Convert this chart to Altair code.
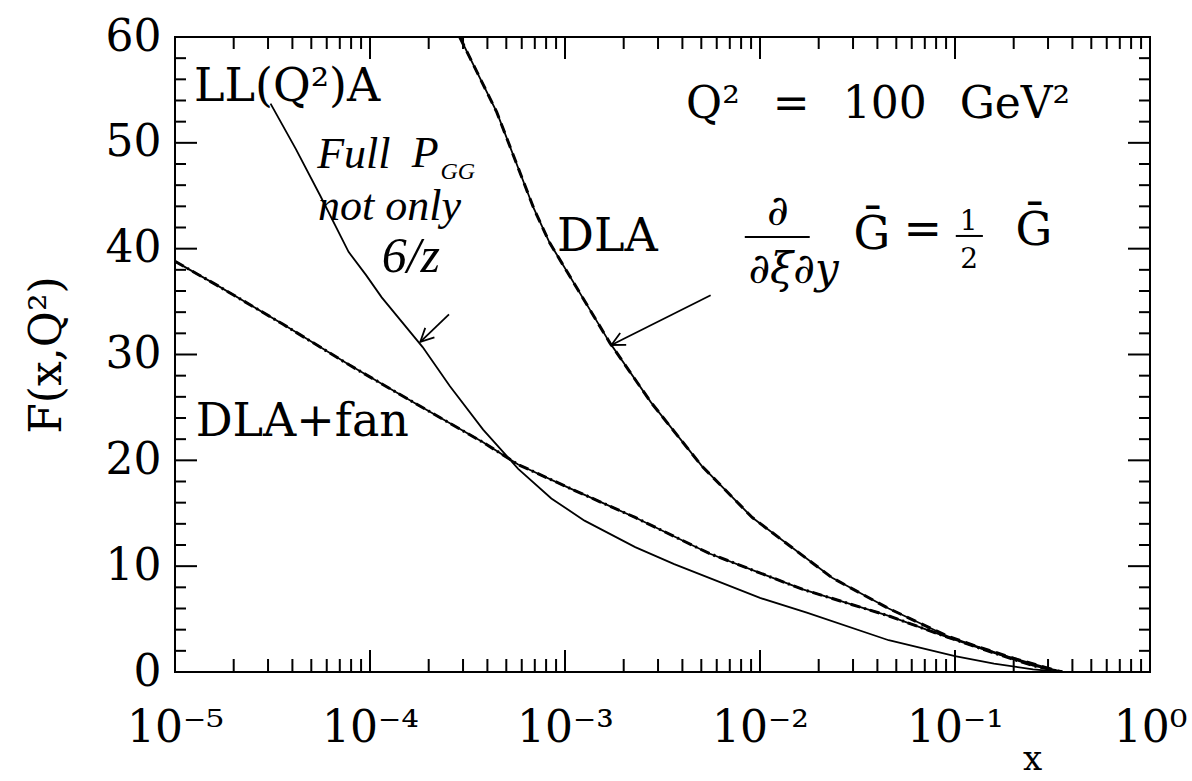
import altair as alt
import pandas as pd

# F(x, Q^2) at Q^2 = 100 GeV^2, each curve as (log10 x, F)
dla_log_x = [-3.54, -3.35, -3.16, -3.08, -2.77, -2.56, -2.30, -2.04, -1.63, -1.34, -1.04, -0.90, -0.70, -0.55, -0.45]
dla_f = [60.0, 52.9, 43.8, 40.6, 31.1, 25.5, 19.5, 14.6, 8.9, 6.0, 3.4, 2.5, 1.3, 0.5, 0.0]

fan_log_x = [-5.0, -4.79, -4.45, -4.105, -3.76, -3.42, -3.24, -2.98, -2.81, -2.64, -2.26, -1.78, -1.34, -1.04, -0.80, -0.60, -0.45]
fan_f = [38.8, 36.6, 32.9, 29.0, 25.3, 21.7, 19.6, 17.4, 16.0, 14.6, 11.2, 7.8, 5.3, 3.3, 1.8, 0.6, 0.0]

ll_log_x = [-4.51, -4.38, -4.255, -4.11, -4.02, -3.94, -3.73, -3.59, -3.42, -3.24, -3.07, -2.90, -2.64, -2.44,
            -2.00, -1.76, -1.34, -1.00, -0.80, -0.60, -0.45]
ll_f = [53.7, 49.4, 45.0, 39.7, 37.5, 35.4, 30.7, 27.0, 22.9, 19.2, 16.4, 14.3, 11.8, 10.2,
        7.0, 5.6, 3.0, 1.5, 0.8, 0.25, 0.0]

# axis ticks and labels
x_major = [1e-5, 1e-4, 1e-3, 1e-2, 1e-1, 1.0]
x_tick_labels = ["10⁻⁵", "10⁻⁴", "10⁻³", "10⁻²", "10⁻¹", "10⁰"]
x_minor = [k * 10.0 ** d for d in range(-5, 0) for k in range(2, 10)]
y_major = [0, 10, 20, 30, 40, 50, 60]
y_minor = [v for v in range(2, 60, 2) if v % 10]

# printed labels
label_text = ["LL(Q²)A", "DLA", "DLA+fan"]
label_log_x = [-4.903, -3.041, -4.894]
label_f = [54.0, 39.8, 22.3]

GAP = "\u2002\u2005"
q2_text = [f"Q²{GAP}={GAP}100{GAP}GeV²"]
q2_log_x = [-2.379]
q2_f = [52.3]

# handwritten notes
note_text = ["Full", "P", "not only"]
note_log_x = [-4.271, -3.786, -4.267]
note_f = [47.6, 47.7, 42.7]
frac_note_text = ["6/z"]
frac_note_log_x = [-3.94]
frac_note_f = [37.8]
sub_text = ["GG"]
sub_log_x = [-3.639]
sub_f = [46.6]

deriv_text = ["∂", "∂ξ∂y"]
deriv_log_x = [-1.909, -1.828]
deriv_f = [42.2, 36.8]
g_text = ["Ḡ", "=", "Ḡ"]
g_log_x = [-1.426, -1.165, -0.595]
g_f = [40.0, 40.4, 40.35]
half_text = ["1", "2"]
half_log_x = [-0.930, -0.927]
half_f = [41.8, 38.2]
bar_log_x0 = [-2.078, -0.996]
bar_log_x1 = [-1.745, -0.857]
bar_f = [41.1, 41.2]

arrow_tail_log_x = [-3.595, -2.253]
arrow_tail_f = [33.8, 35.6]
arrow_tip_log_x = [-3.742, -2.762]
arrow_tip_f = [31.2, 30.9]

W, H = 975, 635
FONT = "DejaVu Serif"
HAND = "Liberation Serif"

xs = alt.Scale(type="log", domain=[1e-5, 1.0], nice=False)
ys = alt.Scale(domain=[0, 60], nice=False, zero=False)


def pts(log_x, f, **extra):
    d = {"x": [10.0 ** v for v in log_x], "F": f}
    d.update(extra)
    return pd.DataFrame(d)


label_expr = "[" + ",".join(f"'{t}'" for t in x_tick_labels) + "][round(log(datum.value) / LN10) + 5]"

x_axis = alt.Axis(values=x_major, labelExpr=label_expr, ticks=False, domain=False, grid=False,
                  labelFont=FONT, labelFontSize=44, labelColor="black", labelPadding=34,
                  labelFlush=False, labelOverlap=False,
                  title="x", titleFont=FONT, titleFontSize=34, titleFontWeight="normal",
                  titleColor="black", titleX=857, titleY=97, titleAlign="center",
                  titleBaseline="alphabetic")
y_axis = alt.Axis(values=y_major, ticks=False, domain=False, grid=False,
                  labelFont=FONT, labelFontSize=44, labelColor="black", labelPadding=14,
                  labelOverlap=False, labelFlush=False,
                  title="F(x,Q²)", titleFont=FONT, titleFontSize=44, titleFontWeight="normal",
                  titleColor="black", titlePadding=36)


def X(field="x"):
    return alt.X(f"{field}:Q", scale=xs, axis=x_axis)


def Y(field="F"):
    return alt.Y(f"{field}:Q", scale=ys, axis=y_axis)


# curves
def curve(log_x, f, width, dash=None):
    kw = {"strokeDash": dash} if dash else {}
    return alt.Chart(pts(log_x, f)).mark_line(color="black", strokeWidth=width, clip=True, **kw).encode(
        x=X(), y=Y(), order="x:Q")


ll_line = curve(ll_log_x, ll_f, 1.8)
dla_line = curve(dla_log_x, dla_f, 1.8)
dla_dash = curve(dla_log_x, dla_f, 3, [10, 6])
fan_line = curve(fan_log_x, fan_f, 1.8)
fan_dash = curve(fan_log_x, fan_f, 3, [10, 4, 2, 4])


# inward ticks on all four sides
def xticks(vals, y0, y1):
    return alt.Chart(pd.DataFrame({"x": vals})).mark_rule(color="black", strokeWidth=2).encode(
        x=X(), y=alt.value(y0), y2=alt.value(y1))


def yticks(vals, x0, x1):
    return alt.Chart(pd.DataFrame({"F": vals})).mark_rule(color="black", strokeWidth=2).encode(
        y=Y(), x=alt.value(x0), x2=alt.value(x1))


tick_layers = [
    xticks(x_major, H, H - 22), xticks(x_minor, H, H - 13),
    xticks(x_major, 0, 22), xticks(x_minor, 0, 12),
    yticks(y_major, 0, 22), yticks(y_minor, 0, 11),
    yticks(y_major, W, W - 22), yticks(y_minor, W, W - 11),
]


def text_layer(df, size, font=FONT, style="normal", align="left"):
    return alt.Chart(df).mark_text(font=font, fontSize=size, fontStyle=style, align=align,
                                   baseline="alphabetic", color="black").encode(
        x=X(), y=Y(), text="t:N")


labels = text_layer(pts(label_log_x, label_f, t=label_text), 46)
q2 = text_layer(pts(q2_log_x, q2_f, t=q2_text), 44)
notes = text_layer(pts(note_log_x, note_f, t=note_text), 44, font=HAND, style="italic")
frac_note = text_layer(pts(frac_note_log_x, frac_note_f, t=frac_note_text), 50, font=HAND, style="italic")
subs = text_layer(pts(sub_log_x, sub_f, t=sub_text), 24, font=HAND, style="italic")
deriv = text_layer(pts(deriv_log_x, deriv_f, t=deriv_text), 42, style="italic", align="center")
gbar = text_layer(pts(g_log_x, g_f, t=g_text), 46, align="center")
half = text_layer(pts(half_log_x, half_f, t=half_text), 28, align="center")

bars = alt.Chart(pd.DataFrame({
    "x": [10.0 ** v for v in bar_log_x0], "x2": [10.0 ** v for v in bar_log_x1], "F": bar_f,
})).mark_rule(color="black", strokeWidth=2).encode(x=X(), y=Y(), x2="x2:Q")

arrows = alt.Chart(pd.DataFrame({
    "x": [10.0 ** v for v in arrow_tail_log_x], "F": arrow_tail_f,
    "x2": [10.0 ** v for v in arrow_tip_log_x], "F2": arrow_tip_f,
})).mark_rule(color="black", strokeWidth=1.8).encode(x=X(), y=Y(), x2="x2:Q", y2="F2:Q")

HEAD = "M-0.5,1L0,0L0.5,1"


def head(i, angle):
    return alt.Chart(pts(arrow_tip_log_x[i:i + 1], arrow_tip_f[i:i + 1])).mark_point(
        shape=HEAD, filled=False, size=700, strokeWidth=1.8, color="black", opacity=1,
        angle=angle).encode(x=X(), y=Y())


chart = alt.layer(
    ll_line, dla_line, dla_dash, fan_line, fan_dash,
    *tick_layers,
    labels, q2, notes, frac_note, subs, deriv, gbar, half, bars, arrows, head(0, 226), head(1, 243),
).properties(
    width=W, height=H,
    padding={"left": 175, "top": 37, "right": 42, "bottom": 109},
    autosize=alt.AutoSizeParams(type="none"),
    background="white",
).configure_view(stroke="black", strokeWidth=2)

chart.save("out.html", embed_options={"renderer": "svg", "actions": False})
